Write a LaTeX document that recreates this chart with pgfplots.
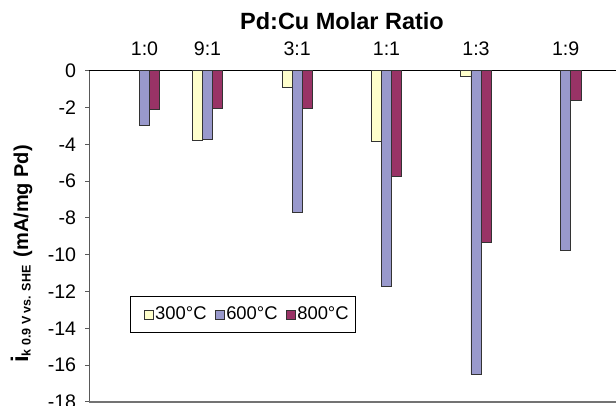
\documentclass[border=0pt]{standalone}
\usepackage{pgfplots}
\pgfplotsset{compat=1.18}
\usepackage{fontspec}
\setmainfont{Liberation Sans}
\definecolor{c300}{HTML}{FFFFCC}
\definecolor{c600}{HTML}{9999CC}
\definecolor{c800}{HTML}{993366}
\begin{document}
\begin{tikzpicture}[x=1pt,y=1pt]
\useasboundingbox (0,0) rectangle (616,406);
\begin{axis}[
  at={(89.3pt,4pt)}, anchor=south west, scale only axis,
  width=526.7pt, height=331.3pt,
  xmin=89.3, xmax=616, ymin=-18, ymax=0,
  axis x line*=top, axis y line*=left,
  x axis line style={line width=1.6pt, black},
  y axis line style={line width=1.2pt, black!65},
  xtick={144.5,207.5,297.2,386.5,476,565.7},
  xticklabels={1:0,9:1,3:1,1:1,1:3,1:9},
  x tick style={draw=none},
  xticklabel style={anchor=base, inner sep=0pt, yshift=10.7pt, font=\fontsize{19.6}{22}\selectfont},
  ytick={-18,-16,-14,-12,-10,-8,-6,-4,-2,0},
  yticklabels={-18,-16,-14,-12,-10,-8,-6,-4,-2,0},
  yticklabel style={anchor=east, inner sep=0pt, xshift=-9pt, font=\fontsize{19.6}{22}\selectfont},
  y tick style={black!65, line width=1pt},
  tick align=outside, major tick length=4pt,
  ybar, bar width=10.2,
  legend columns=3,
  legend style={at={(0.0773,0.2083)}, anchor=south west, draw=black, line width=1pt,
    font=\fontsize{18.4}{20}\selectfont, inner xsep=6pt, inner ysep=10pt,
    nodes={inner sep=1pt},
    /tikz/every odd column/.append style={column sep=1pt},
    /tikz/every even column/.append style={column sep=0pt}},
  legend image code/.code={\path (-7pt,0pt); \draw[#1, draw=black!80, line width=0.6pt] (0pt,-4.5pt) rectangle (9pt,4.5pt);},
  clip=false,
]
\addplot[fill=c300, draw=black!80, line width=0.8pt, bar shift=-10.2] coordinates {
  (207.5,-3.80) (297.2,-0.89) (386.5,-3.86) (476,-0.29)};
\addplot[fill=c600, draw=black!80, line width=0.8pt, bar shift=0] coordinates {
  (144.5,-2.95) (207.5,-3.71) (297.2,-7.68) (386.5,-11.74) (476,-16.49) (565.7,-9.75)};
\addplot[fill=c800, draw=black!80, line width=0.8pt, bar shift=10.2] coordinates {
  (144.5,-2.10) (207.5,-2.07) (297.2,-2.07) (386.5,-5.76) (476,-9.33) (565.7,-1.59)};
\legend{300°C,600°C,800°C}
\draw[black!55, line width=1.6pt] (axis cs:89.3,-18) -- (axis cs:616,-18);
\end{axis}
\node[anchor=base, font=\fontsize{23.5}{26}\selectfont\bfseries, inner sep=0pt] at (342,376) {Pd:Cu Molar Ratio};
\node[rotate=90, anchor=base west, inner sep=0pt] at (28,43) {\bfseries{\fontsize{24}{24}\selectfont i}\raisebox{-2.5pt}{\fontsize{12.5}{12.5}\selectfont k 0.9 V vs. SHE}\hspace{8pt}{\fontsize{20}{22}\selectfont (mA/mg Pd)}};
\end{tikzpicture}
\end{document}
